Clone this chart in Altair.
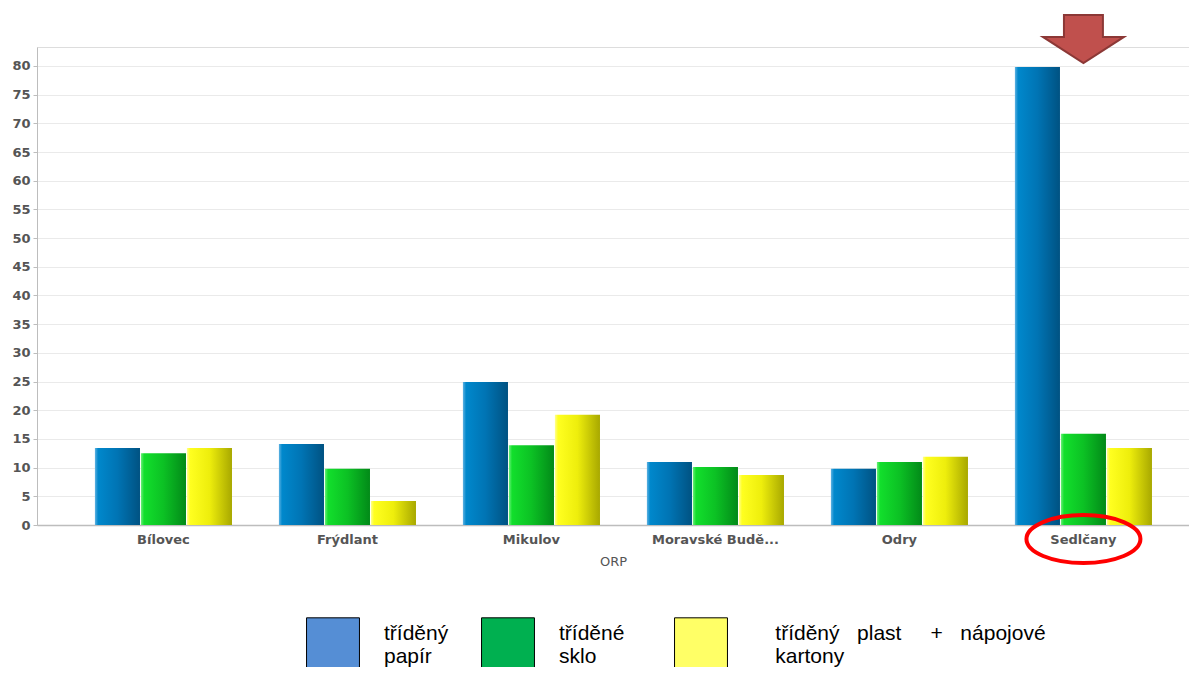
import altair as alt
import pandas as pd

categories = ["Bílovec", "Frýdlant", "Mikulov", "Moravské Budějovice", "Odry", "Sedlčany"]
series = ["tříděný papír", "tříděné sklo", "tříděný plast + nápojové kartony"]
papir = [13.4, 14.1, 24.9, 11.0, 9.8, 79.8]
sklo = [12.5, 9.8, 13.9, 10.1, 11.0, 15.9]
plast = [13.4, 4.2, 19.2, 8.7, 11.9, 13.4]
y_ticks = list(range(0, 81, 5))
legend_colors = ["#558ED5", "#00B050", "#FFFF66"]

# annotations (arrow above Sedlčany, ellipse around its label)
arrow_cat = ["Sedlčany"]
arrow_val = [84.7]
ellipse_cat = ["Sedlčany"]
ellipse_val = [-2.45]

rows = []
for s, vals in zip(series, [papir, sklo, plast]):
    for c, v in zip(categories, vals):
        rows.append({"ORP": c, "series": s, "value": v})
df = pd.DataFrame(rows)

grads = [
    [("#5FB2E2", 0), ("#0088CC", 0.07), ("#0074B4", 0.5), ("#005282", 1)],
    [("#6AF07A", 0), ("#12DF2C", 0.07), ("#0CC124", 0.5), ("#028A18", 1)],
    [("#FFFF90", 0), ("#FFFF20", 0.07), ("#EEEE0C", 0.5), ("#A8A800", 1)],
]

x_enc = alt.X(
    "ORP:N",
    sort=categories,
    scale=alt.Scale(domain=categories, paddingInner=0.255, paddingOuter=0.258, align=0.61),
    axis=alt.Axis(
        title="ORP",
        labelAngle=0,
        ticks=False,
        grid=False,
        labelPadding=8,
        labelFont="DejaVu Sans",
        labelFontWeight="bold",
        labelFontSize=13,
        labelColor="#555555",
        labelExpr="length(datum.label) > 14 ? substring(datum.label, 0, 13) + '...' : datum.label",
        titleFont="DejaVu Sans",
        titleFontWeight="normal",
        titleFontSize=13,
        titleColor="#555555",
        titlePadding=9,
        domainColor="#BDBDBD",
        domainWidth=1.5,
    ),
)
y_scale = alt.Scale(domain=[0, 83.3], nice=False, zero=True)
y_enc = alt.Y(
    "value:Q",
    scale=y_scale,
    axis=alt.Axis(
        title=None,
        values=y_ticks,
        tickCount=17,
        labelOverlap=False,
        grid=True,
        gridColor="#EAEAEA",
        tickSize=4,
        tickColor="#BDBDBD",
        domainColor="#BDBDBD",
        labelFont="DejaVu Sans",
        labelFontWeight="bold",
        labelFontSize=13,
        labelColor="#555555",
        labelPadding=3,
    ),
)
xoff = alt.XOffset("series:N", scale=alt.Scale(domain=series, paddingInner=0.02))

base = alt.Chart(df).encode(x=x_enc, xOffset=xoff, y=y_enc)

layers = []
for s, g in zip(series, grads):
    grad = alt.Gradient(
        gradient="linear",
        stops=[alt.GradientStop(color=c, offset=o) for c, o in g],
        x1=0, x2=1, y1=0, y2=0,
    )
    layers.append(
        base.transform_filter(alt.datum.series == s).mark_bar(color=grad)
    )

nb = "\u00a0"
zw = "\u200b"
lead = zw + nb * 4
legend_label_expr = (
    "datum.label == 'tříděný papír' ? ['tříděný', 'papír'] : "
    f"datum.label == 'tříděné sklo' ? ['tříděné{nb * 3}{zw}', 'sklo'] : "
    f"['{lead}tříděný{nb * 3}plast{nb * 5}+{nb * 3}nápojové', '{lead}kartony']"
)

legend_layer = alt.Chart(df).mark_square(opacity=0).encode(
    x=x_enc,
    y=y_enc,
    color=alt.Color(
        "series:N",
        scale=alt.Scale(domain=series, range=legend_colors),
        legend=alt.Legend(
            title=None,
            orient="none",
            legendX=269,
            legendY=570,
            direction="horizontal",
            columns=3,
            symbolType="square",
            symbolSize=2800,
            symbolOpacity=1,
            symbolStrokeColor="black",
            symbolStrokeWidth=1,
            labelFont="Liberation Sans",
            labelFontSize=21,
            labelColor="black",
            labelOffset=24,
            labelLimit=400,
            labelBaseline="bottom",
            columnPadding=30,
            labelExpr=legend_label_expr,
        ),
    ),
)

arrow_df = pd.DataFrame({"ORP": arrow_cat, "value": arrow_val})
arrow = alt.Chart(arrow_df).mark_point(
    shape="M -0.481 -0.593 L 0.481 -0.593 L 0.481 -0.05 L 1 -0.05 L 0 0.593 L -1 -0.05 L -0.481 -0.05 Z",
    size=6561,
    filled=True,
    fill="#C0504D",
    stroke="#8C3836",
    strokeWidth=2,
    opacity=1,
).encode(x=x_enc, y=y_enc)

ell_df = pd.DataFrame({"ORP": ellipse_cat, "value": ellipse_val})
ellipse = alt.Chart(ell_df).mark_point(
    shape="M -1 0 A 1 0.42 0 1 0 1 0 A 1 0.42 0 1 0 -1 0 Z",
    size=12996,
    filled=False,
    stroke="#FF0000",
    strokeWidth=4,
    opacity=1,
).encode(x=x_enc, y=y_enc)

chart = alt.layer(*layers, legend_layer, arrow, ellipse).properties(
    width=1152,
    height=478,
    autosize=alt.AutoSizeParams(type="none"),
    padding={"left": 29, "top": 39, "right": 0, "bottom": 142},
).configure_view(stroke=None).configure(background="white")

chart.save("out.html", embed_options={"renderer": "svg", "actions": False})
